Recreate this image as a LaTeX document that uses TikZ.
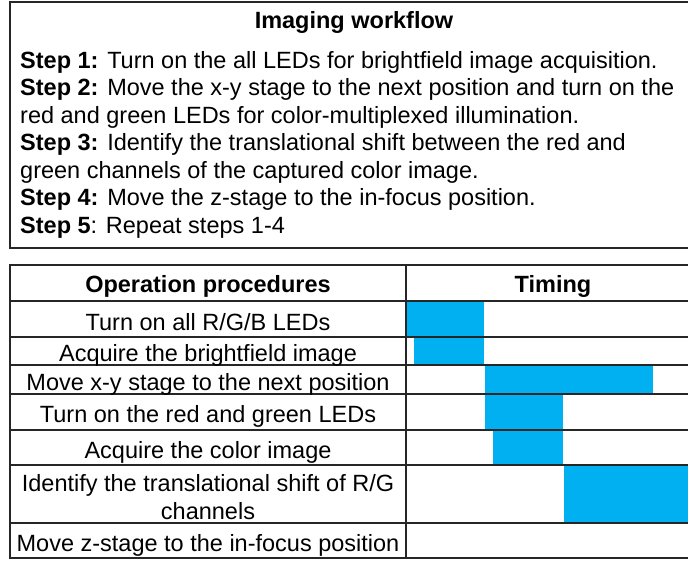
\documentclass[tikz,border=0pt]{standalone}
\usepackage{fontspec}
\setmainfont{Liberation Sans}
\definecolor{barblue}{HTML}{00B0F0}
\definecolor{linegray}{HTML}{262626}
\begin{document}
\begin{tikzpicture}[x=1pt,y=-1pt,
  txt/.style={inner sep=0pt, font=\fontsize{23.5}{27.5}\selectfont},
  stepline/.style={txt, anchor=base west},
  cell/.style={txt, anchor=base},
  bar/.style={fill=barblue, draw=none},
  gridline/.style={draw=linegray, line width=1.4pt},
  boxline/.style={draw=linegray, line width=1.8pt}]
\useasboundingbox (0,0) rectangle (688,560);
% top box
\draw[boxline] (10,2) rectangle (700,248);
\node[cell] (title) at (354,28) {\textbf{Imaging workflow}};
\node[stepline] (s1) at (20,68) {\textbf{Step 1:} Turn on the all LEDs for brightfield image acquisition.};
\node[stepline] (s2) at (20,95.5) {\textbf{Step 2:} Move the x-y stage to the next position and turn on the};
\node[stepline] (s2b) at (20,123) {red and green LEDs for color-multiplexed illumination.};
\node[stepline] (s3) at (20,150.5) {\textbf{Step 3:} Identify the translational shift between the red and};
\node[stepline] (s3b) at (20,178) {green channels of the captured color image.};
\node[stepline] (s4) at (20,205.5) {\textbf{Step 4:} Move the z-stage to the in-focus position.};
\node[stepline] (s5) at (20,233) {\textbf{Step 5}: Repeat steps 1-4};
% timing bars
\fill[bar] (406,301) rectangle (484,337);
\fill[bar] (414,337) rectangle (484,365);
\fill[bar] (485,365) rectangle (653,394);
\fill[bar] (485,394) rectangle (563,430);
\fill[bar] (493,430) rectangle (563,465);
\fill[bar] (564,465) rectangle (700,523);
% table grid
\draw[gridline] (10,265) rectangle (700,558);
\draw[gridline] (406,265) -- (406,558);
\foreach \yy in {301,337,365,394,430,465,523}
  \draw[gridline] (10,\yy) -- (700,\yy);
% table text
\node[cell] (h1) at (208,292) {\textbf{Operation procedures}};
\node[cell] (h2) at (553,292) {\textbf{Timing}};
\node[cell] (r1) at (208,330) {Turn on all R/G/B LEDs};
\node[cell] (r2) at (208,361) {Acquire the brightfield image};
\node[cell] (r3) at (208,390) {Move x-y stage to the next position};
\node[cell] (r4) at (208,422.5) {Turn on the red and green LEDs};
\node[cell] (r5) at (208,458) {Acquire the color image};
\node[cell] (r6) at (208,491) {Identify the translational shift of R/G};
\node[cell] (r6b) at (208,519) {channels};
\node[cell] (r7) at (208,551.5) {Move z-stage to the in-focus position};
\end{tikzpicture}
\end{document}
